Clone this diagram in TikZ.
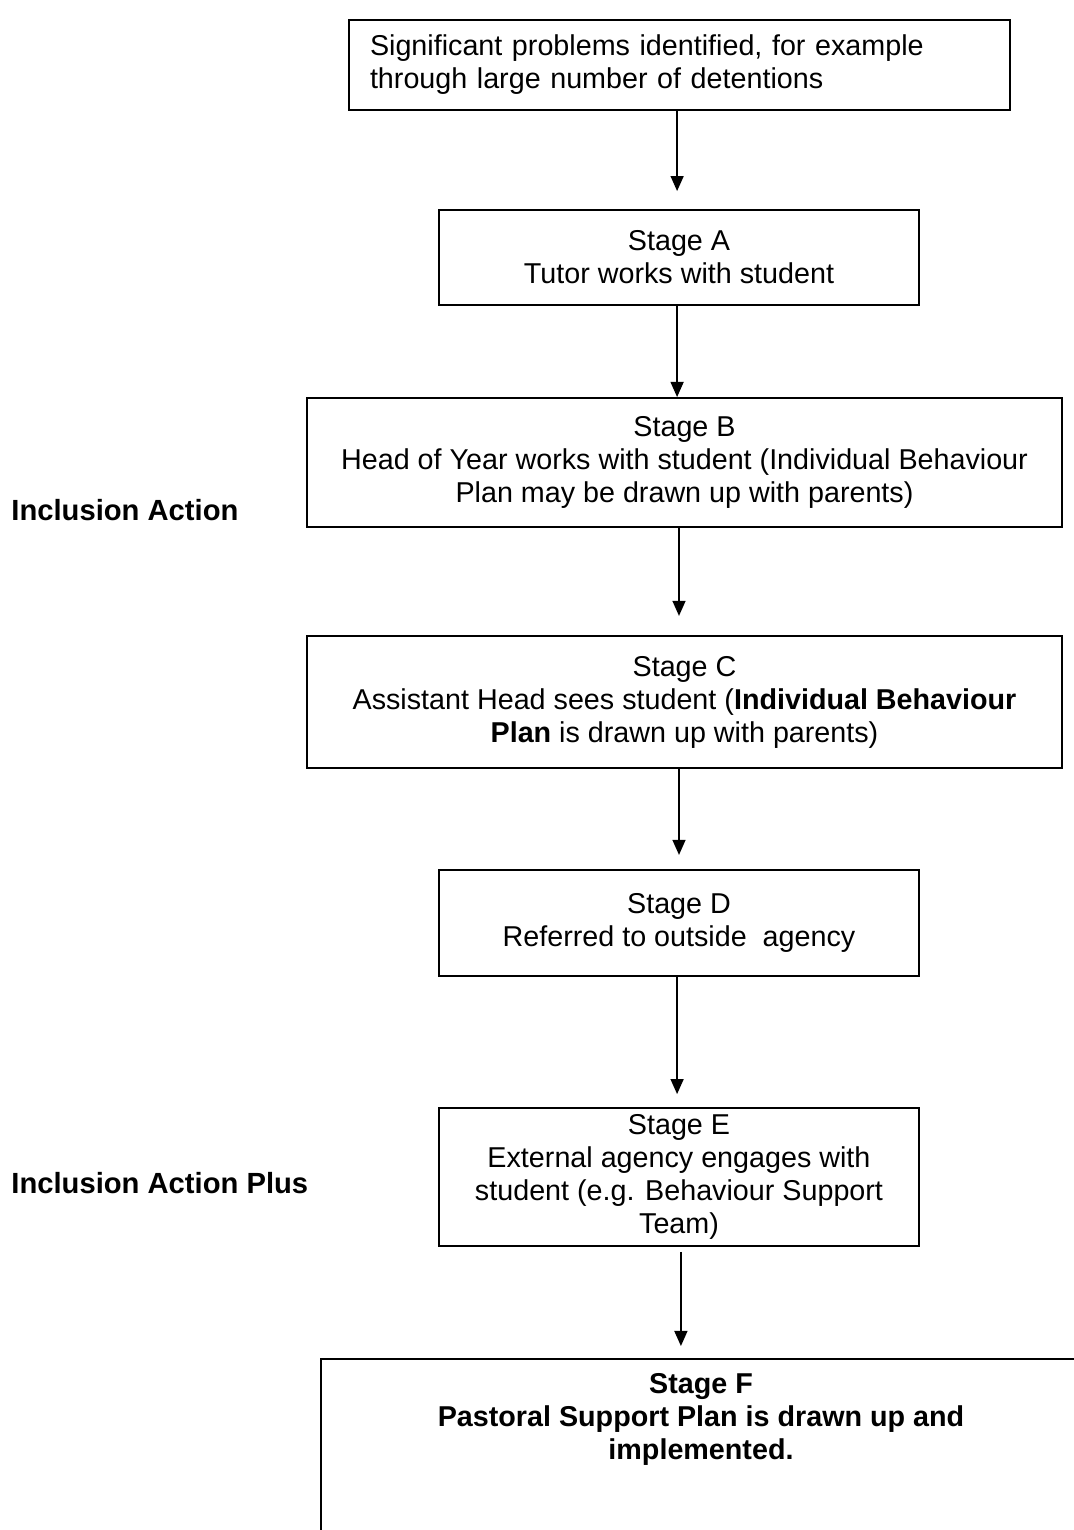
\documentclass[tikz,border=0pt]{standalone}
\usepackage{fontspec}
\setmainfont{Liberation Sans}
\usetikzlibrary{arrows.meta}
\newlength\pxu
\setlength\pxu{0.418pt}

\begin{document}
\begin{tikzpicture}[
  x=0.418pt, y=-0.418pt, >={Triangle[length=6.3pt,width=5.4pt]},
  font=\fontsize{12pt}{13.8pt}\selectfont,
  stageBox/.style={draw, line width=0.8pt, align=center, inner sep=0pt},
  arr/.style={->, line width=0.7pt},
  sideLabel/.style={anchor=west, font=\fontsize{12.2pt}{14pt}\selectfont\bfseries},
]
\useasboundingbox[fill=white] (0,0) rectangle (1073,1530);

\node[stageBox, minimum width=661\pxu, minimum height=90\pxu,
      text width=619\pxu, align=left] (prob) at (679.5,65)
  {Significant problems identified, for example\\through large number of detentions};
\node[stageBox, minimum width=480\pxu, minimum height=95\pxu] (stA) at (679,257.5)
  {Stage A\\Tutor works with student};
\node[stageBox, minimum width=755\pxu, minimum height=129\pxu] (stB) at (684.5,462.5)
  {Stage B\\Head of Year works with student (Individual Behaviour\\Plan may be drawn up with parents)};
\node[stageBox, minimum width=755\pxu, minimum height=132\pxu] (stC) at (684.5,702)
  {Stage C\\Assistant Head sees student (\textbf{Individual Behaviour}\\\textbf{Plan} is drawn up with parents)};
\node[stageBox, minimum width=480\pxu, minimum height=106\pxu] (stD) at (679,923)
  {Stage D\\Referred to outside~ agency};
\node[stageBox, minimum width=480\pxu, minimum height=138\pxu] (stE) at (679,1177)
  {Stage E\\External agency engages with\\student (e.g. Behaviour Support\\Team)};
% last box runs off the page
\node[stageBox, anchor=north west, minimum width=770\pxu, minimum height=260\pxu] (stF) at (320,1358) {};
\node[align=center, font=\fontsize{12pt}{13.8pt}\selectfont\bfseries] (stFtext) at (701,1419)
  {Stage F\\Pastoral Support Plan is drawn up and\\implemented.};

\node[sideLabel] (incl) at (3,510) {Inclusion Action};
\node[sideLabel] (inclPlus) at (3,1183) {Inclusion Action Plus};

\draw[arr, shorten >=7.5pt] ([xshift=-1pt]prob.south) -- ([xshift=-1pt]prob.south |- stA.north);
\draw[arr] ([xshift=-0.8pt]stA.south) -- ([xshift=-0.8pt]stA.south |- stB.north);
\draw[arr, shorten >=8pt] ([xshift=-2.3pt]stB.south) -- ([xshift=-2.3pt]stB.south |- stC.north);
\draw[arr, shorten >=5.9pt] ([xshift=-2.3pt]stC.south) -- ([xshift=-2.3pt]stC.south |- stD.north);
\draw[arr, shorten >=5.4pt] ([xshift=-0.8pt]stD.south) -- ([xshift=-0.8pt]stD.south |- stE.north);
\draw[arr, shorten <=2pt, shorten >=5pt] ([xshift=0.8pt]stE.south) -- ([xshift=0.8pt]stE.south |- stF.north);
\end{tikzpicture}
\end{document}
